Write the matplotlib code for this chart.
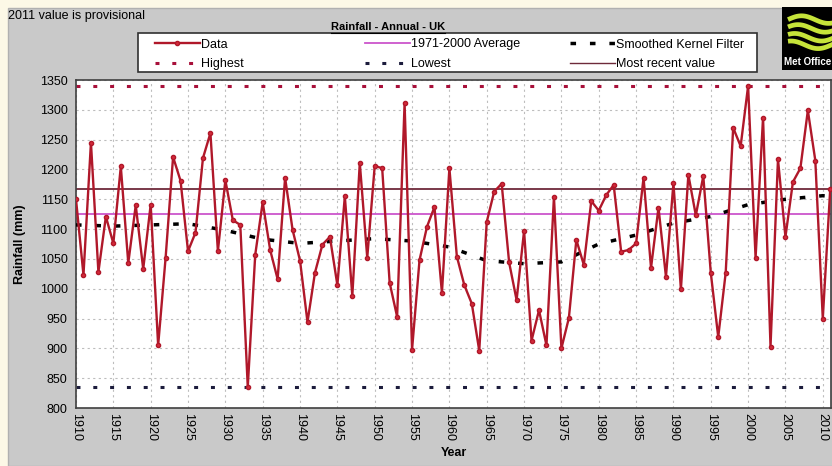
import matplotlib.pyplot as plt
import matplotlib.patches as mpatches
from matplotlib.lines import Line2D
import numpy as np

plt.rcParams['font.family'] = ['Liberation Sans', 'DejaVu Sans']

# UK annual rainfall (mm)
years = list(range(1910, 2012))
rain = [1150, 1023, 1245, 1028, 1121, 1076, 1205, 1043, 1140, 1033,
        1141, 905, 1052, 1221, 1181, 1063, 1094, 1219, 1261, 1063,
        1182, 1115, 1107, 835, 1057, 1145, 1065, 1016, 1186, 1099,
        1047, 944, 1027, 1074, 1087, 1006, 1155, 988, 1211, 1052,
        1206, 1202, 1010, 953, 1311, 898, 1048, 1104, 1137, 993,
        1202, 1054, 1006, 975, 896, 1112, 1163, 1176, 1044, 981,
        1097, 913, 964, 905, 1154, 900, 951, 1082, 1040, 1147,
        1131, 1157, 1174, 1062, 1065, 1076, 1186, 1035, 1136, 1020,
        1177, 999, 1191, 1123, 1189, 1027, 919, 1027, 1270, 1239,
        1340, 1052, 1287, 903, 1217, 1087, 1179, 1202, 1299, 1215,
        950, 1168]

# smoothed kernel filter, read every 5 years
smooth_years = [1910, 1915, 1920, 1925, 1930, 1935, 1940, 1945, 1950, 1955,
                1960, 1965, 1970, 1975, 1980, 1985, 1990, 1995, 2000, 2005,
                2010, 2011]
smooth = [1107, 1105, 1107, 1109, 1098, 1083, 1076, 1080, 1084, 1080,
          1070, 1047, 1042, 1045, 1075, 1090, 1110, 1121, 1141, 1150,
          1156, 1155]

avg_7100 = 1126
highest = max(rain)
lowest = min(rain)
recent = rain[-1]

c_data = '#b0182a'
c_avg = '#cc55cc'
c_high = '#a8103a'
c_low = '#1c1c3c'
c_recent = '#6e2a3a'

fig = plt.figure(figsize=(8.32, 4.66), dpi=100, facecolor='#fcf8e6')
W, H = 832, 466

# grey chart area
fig.patches.append(mpatches.Rectangle((8 / W, 0), 1, (H - 8) / H,
                                      transform=fig.transFigure,
                                      facecolor='#c9c9c9', edgecolor='#b0b0b0',
                                      zorder=-5))

ax = fig.add_axes([76 / W, (H - 408) / H, (831 - 76) / W, (408 - 80) / H])
ax.set_facecolor('white')

ax.axhline(highest, color=c_high, lw=2.2, dashes=(1.3, 4.2), zorder=2)
ax.axhline(lowest, color=c_low, lw=2.2, dashes=(1.3, 4.2), zorder=2)
ax.axhline(avg_7100, color=c_avg, lw=1.3, zorder=2)
ax.axhline(recent, color=c_recent, lw=1.3, zorder=2)
ax.plot(smooth_years, smooth, color='black', lw=2.5, dashes=(1.6, 4.0), zorder=3)
ax.plot(years, rain, color=c_data, lw=1.7, marker='o', ms=3.0,
        mfc='#d42a3a', mec=c_data, zorder=4)

ax.set_xlim(1910, 2011.1)
ax.set_ylim(800, 1350)
ax.set_xticks(range(1910, 2011, 5))
ax.set_xticklabels([str(y) for y in range(1910, 2011, 5)], rotation=270,
                   fontsize=9)
ax.set_yticks(range(800, 1351, 50))
ax.tick_params(axis='y', labelsize=9, length=0, pad=6)
ax.tick_params(axis='x', length=0, pad=3.6)
ax.grid(True, color='#bdbdbd', lw=0.8, ls=(0, (2, 3)))
ax.set_axisbelow(True)
for s in ax.spines.values():
    s.set_color('#404040')
    s.set_linewidth(1.2)

ax.set_xlabel('Year', fontsize=9, fontweight='bold', labelpad=4)
ax.set_ylabel('Rainfall (mm)', fontsize=9, fontweight='bold', labelpad=10)

fig.text(8 / W, 1 - 16 / H, '2011 value is provisional', fontsize=9,
         ha='left', va='center')
fig.text(388 / W, 1 - 27 / H, 'Rainfall - Annual - UK', fontsize=8,
         fontweight='bold', ha='center', va='center')
fig.lines.append(Line2D([331 / W, 445 / W], [1 - 32.5 / H, 1 - 32.5 / H],
                        transform=fig.transFigure, color='black', lw=0.8))

# legend box with three columns
fig.patches.append(mpatches.Rectangle((138 / W, 1 - 72 / H), (757 - 138) / W,
                                      39 / H, transform=fig.transFigure,
                                      facecolor='white', edgecolor='#303030',
                                      lw=1.2, zorder=1))
columns = [
    ([Line2D([], [], color=c_data, lw=1.7, marker='o', ms=3.0, mfc='#d42a3a'),
      Line2D([], [], color=c_high, lw=2.2, dashes=(1.3, 4.2))],
     ['Data', 'Highest'], 152),
    ([Line2D([], [], color=c_avg, lw=1.3),
      Line2D([], [], color=c_low, lw=2.2, dashes=(1.3, 4.2))],
     ['1971-2000 Average', 'Lowest'], 362),
    ([Line2D([], [], color='black', lw=2.5, dashes=(1.6, 4.0)),
      Line2D([], [], color=c_recent, lw=1.0)],
     ['Smoothed Kernel Filter', 'Most recent value'], 567),
]
for hs, ls, x0 in columns:
    lg = fig.legend(hs, ls, loc='upper left',
                    bbox_to_anchor=(x0 / W, 1 - 36 / H), fontsize=9,
                    frameon=False, handlelength=3.6, handletextpad=0.1,
                    borderaxespad=0, labelspacing=0.6, borderpad=0.2)
    lg.set_zorder(2)

# Met Office logo
lax = fig.add_axes([782 / W, 1 - 70 / H, 60 / W, 63 / H])
lax.set_facecolor('black')
lax.set_xlim(0, 1)
lax.set_ylim(0, 1)
lax.set_xticks([])
lax.set_yticks([])
for s in lax.spines.values():
    s.set_visible(False)
t = np.linspace(0.1, 0.95, 60)
for k, y0 in enumerate([0.80, 0.66, 0.52, 0.40]):
    lax.plot(t, y0 + 0.06 * np.sin((t - 0.1) * 7 + k * 0.4), color='#c6e43a',
             lw=3.4, solid_capstyle='butt')
lax.text(0.04, 0.13, 'Met Office', color='white', fontsize=7,
         fontweight='bold', ha='left', va='center')

fig.savefig('out.png', dpi=100, facecolor=fig.get_facecolor())
